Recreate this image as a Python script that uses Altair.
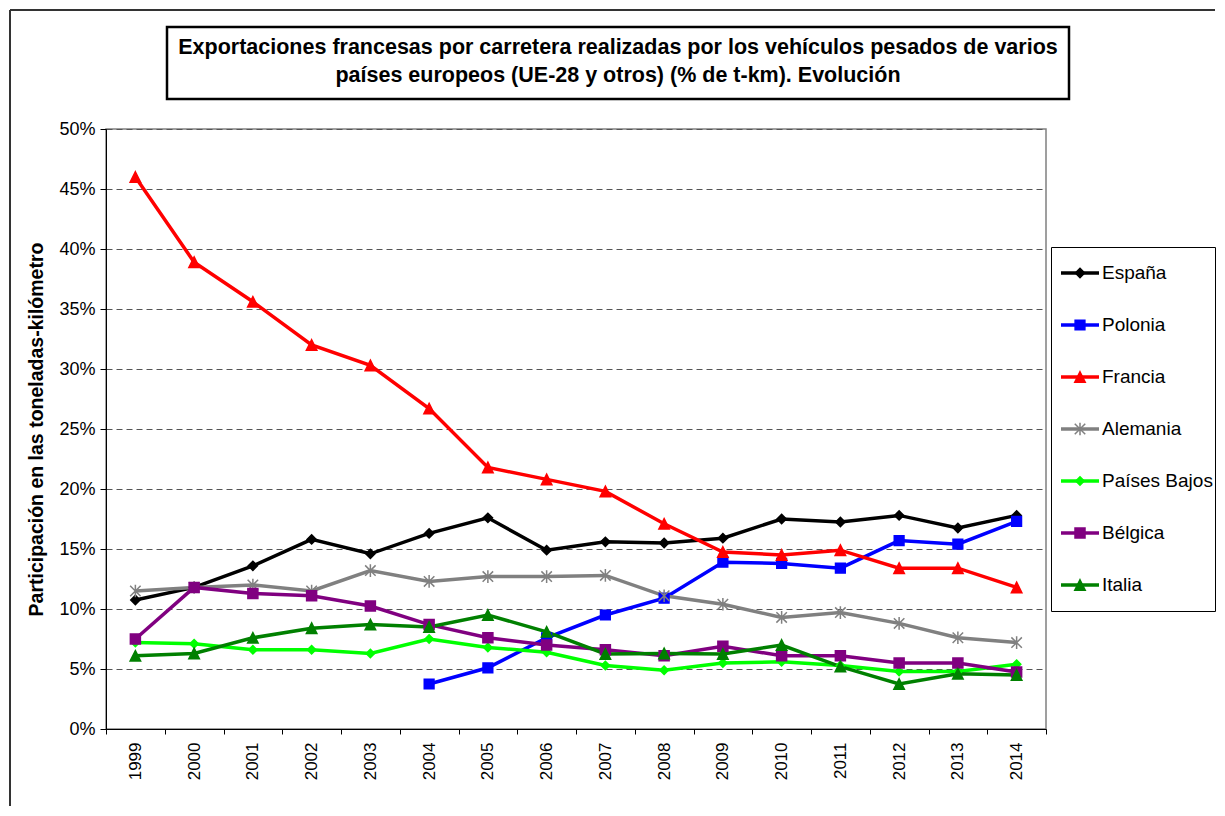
import altair as alt
import pandas as pd

years = [str(y) for y in range(1999, 2015)]
names = ["España", "Polonia", "Francia", "Alemania", "Países Bajos", "Bélgica", "Italia"]

espana = [10.75, 11.8, 13.6, 15.8, 14.6, 16.3, 17.6, 14.9, 15.6, 15.5, 15.9, 17.5, 17.25, 17.8, 16.75, 17.8]
polonia = [None, None, None, None, None, 3.75, 5.1, 7.6, 9.5, 10.9, 13.9, 13.8, 13.4, 15.7, 15.4, 17.3]
francia = [46.0, 38.9, 35.6, 32.0, 30.3, 26.7, 21.8, 20.8, 19.8, 17.1, 14.75, 14.5, 14.9, 13.4, 13.4, 11.8]
alemania = [11.5, 11.8, 12.0, 11.5, 13.2, 12.3, 12.7, 12.7, 12.8, 11.1, 10.4, 9.3, 9.7, 8.8, 7.6, 7.2]
paises_bajos = [7.2, 7.1, 6.6, 6.6, 6.3, 7.5, 6.8, 6.4, 5.3, 4.9, 5.5, 5.6, 5.3, 4.8, 4.8, 5.4]
belgica = [7.5, 11.8, 11.3, 11.1, 10.25, 8.7, 7.6, 7.0, 6.6, 6.1, 6.9, 6.1, 6.1, 5.5, 5.5, 4.75]
italia = [6.1, 6.3, 7.6, 8.4, 8.7, 8.5, 9.5, 8.1, 6.25, 6.3, 6.25, 7.0, 5.2, 3.75, 4.6, 4.5]

series = [espana, polonia, francia, alemania, paises_bajos, belgica, italia]
colors = ["#000000", "#0000FF", "#FF0000", "#808080", "#00FF00", "#800080", "#008000"]

diamond = "M0,-1L1,0L0,1L-1,0Z"
square = "M-1,-1L1,-1L1,1L-1,1Z"
triangle = "M0,-1L1,1L-1,1Z"
asterisk = "M-1,-1L1,1M-1,1L1,-1M0,-1.2L0,1.2"
shapes = [diamond, square, triangle, asterisk, diamond, square, triangle]
sizes = [85, 95, 110, 110, 70, 100, 110]

title_text = ("Exportaciones francesas por carretera realizadas por los vehículos pesados de varios\n"
              "países europeos (UE-28 y otros) (% de t-km). Evolución")
y_title = "Participación en las toneladas-kilómetro"

rows = []
for name, vals in zip(names, series):
    for yr, v in zip(years, vals):
        if v is not None:
            rows.append({"year": yr, "pais": name, "value": v})
df = pd.DataFrame(rows)

color_scale = alt.Scale(domain=names, range=colors)
shape_scale = alt.Scale(domain=names, range=shapes)
size_scale = alt.Scale(type="ordinal", domain=names, range=sizes)

x_enc = alt.X(
    "year:O",
    bandPosition=0.5,
    scale=alt.Scale(type="band", domain=years, paddingInner=0, paddingOuter=0),
    axis=alt.Axis(
        title=None, labelAngle=270, labelFontSize=17, labelPadding=8,
        tickBand="extent", tickSize=5, tickColor="black", domainColor="black",
        labelColor="black", grid=False,
    ),
)
y_enc = alt.Y(
    "value:Q",
    scale=alt.Scale(domain=[0, 50], nice=False, zero=True),
    axis=alt.Axis(
        values=list(range(0, 55, 5)), labelExpr="datum.value + '%'",
        title=y_title, titleFontSize=19.5, titleFontWeight="bold", titleColor="black",
        titlePadding=12, labelFontSize=18, labelColor="black", labelPadding=5,
        tickSize=6, tickColor="black", domainColor="black",
        grid=True, gridDash=[6, 4], gridColor="#555555", gridWidth=1,
    ),
)

base = alt.Chart(df)
lines = base.mark_line(strokeWidth=3.5).encode(
    x=x_enc, y=y_enc,
    color=alt.Color("pais:N", scale=color_scale, legend=None),
    order=alt.Order("year:O"),
)
points = base.mark_point(filled=True, opacity=1, strokeWidth=1.5).encode(
    x=x_enc, y=y_enc,
    color=alt.Color("pais:N", scale=color_scale, legend=None),
    stroke=alt.Stroke("pais:N", scale=color_scale, legend=None),
    shape=alt.Shape("pais:N", scale=shape_scale, legend=None),
    size=alt.Size("pais:N", scale=size_scale, legend=None),
)

one = pd.DataFrame({"a": [0]})
frame_top = alt.Chart(one).mark_rule(color="#333333", strokeWidth=2).encode(
    x=alt.value(-96), x2=alt.value(1109), y=alt.value(-119)
)
frame_left = alt.Chart(one).mark_rule(color="#333333", strokeWidth=2).encode(
    x=alt.value(-96), y=alt.value(-119), y2=alt.value(677)
)
title_box = alt.Chart(one).mark_rect(fill="white", stroke="black", strokeWidth=2.5).encode(
    x=alt.value(61), x2=alt.value(963), y=alt.value(-102), y2=alt.value(-30)
)
title = alt.Chart(one).mark_text(
    fontSize=21.5, fontWeight="bold", lineBreak="\n", lineHeight=28,
    align="center", baseline="middle", color="black",
).encode(x=alt.value(512), y=alt.value(-81), text=alt.value(title_text))

main = alt.layer(frame_top, frame_left, title_box, title, lines, points).properties(
    width=940, height=600,
    view=alt.ViewBackground(stroke="#808080", strokeWidth=1.5),
)

ldf = pd.DataFrame({"pais": names})
ly = alt.Y(
    "pais:N", sort=names, bandPosition=0.5,
    scale=alt.Scale(type="band", domain=names, paddingInner=0, paddingOuter=0),
    axis=None,
)
lbase = alt.Chart(ldf)
l_rule = lbase.mark_rule(strokeWidth=3.5).encode(
    x=alt.value(10), x2=alt.value(48), y=ly,
    color=alt.Color("pais:N", scale=color_scale, legend=None),
)
l_pts = lbase.mark_point(filled=True, opacity=1, strokeWidth=1.5).encode(
    x=alt.value(29), y=ly,
    color=alt.Color("pais:N", scale=color_scale, legend=None),
    stroke=alt.Stroke("pais:N", scale=color_scale, legend=None),
    shape=alt.Shape("pais:N", scale=shape_scale, legend=None),
    size=alt.Size("pais:N", scale=size_scale, legend=None),
)
l_txt = lbase.mark_text(align="left", baseline="middle", fontSize=19, color="black").encode(
    x=alt.value(51), y=ly, text="pais:N"
)
legend = alt.layer(l_rule, l_pts, l_txt).properties(
    width=164, height=364,
    view=alt.ViewBackground(stroke="black", strokeWidth=1),
)

chart = alt.hconcat(main, legend, spacing=5, bounds="flush", center=True).resolve_scale(
    x="independent", y="independent"
).properties(padding=0, background="white").configure(
    font="Liberation Sans"
).configure_text(font="Liberation Sans").configure_axis(
    labelFont="Liberation Sans", titleFont="Liberation Sans"
)

chart.save("out.html", embed_options={"renderer": "svg", "actions": False})
